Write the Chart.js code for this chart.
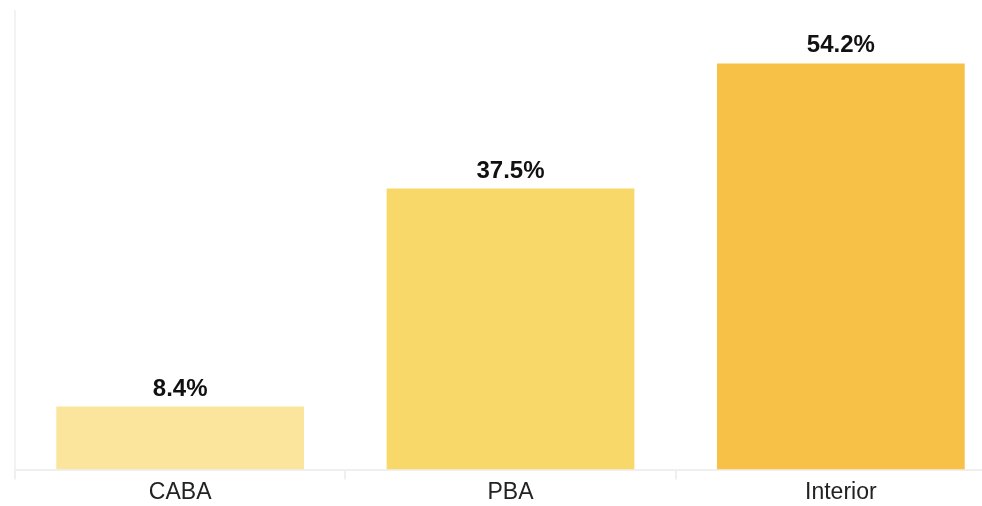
<!DOCTYPE html>
<html><head><meta charset="utf-8">
<script src="https://cdn.jsdelivr.net/npm/chart.js@4"></script>
<style>html,body{margin:0;padding:0;background:#fff;overflow:hidden;}#wrap{width:1006px;height:506px;position:relative;}</style>
</head><body><div id="wrap"><canvas id="c"></canvas></div>
<script>
const categories = ["CABA", "PBA", "Interior"];
const values = [8.4, 37.5, 54.2];
const valueLabels = ["8.4%", "37.5%", "54.2%"];
const barColors = ["#FBE59D", "#F9D86A", "#F7C046"];

const labelPlugin = {
  id: 'valLabels',
  afterDatasetsDraw(chart) {
    const ctx = chart.ctx;
    const meta = chart.getDatasetMeta(0);
    ctx.save();
    ctx.font = "bold 24px 'Liberation Sans', Arial, sans-serif";
    ctx.fillStyle = "#111";
    ctx.textAlign = "center";
    ctx.textBaseline = "alphabetic";
    meta.data.forEach((bar, i) => {
      ctx.fillText(valueLabels[i], bar.x, bar.y - 11);
    });
    ctx.restore();
  }
};

new Chart(document.getElementById('c'), {
  type: 'bar',
  data: { labels: categories, datasets: [{ data: values, backgroundColor: barColors, borderWidth: 0, categoryPercentage: 0.75, barPercentage: 1.0 }] },
  options: {
    responsive: true, maintainAspectRatio: false, animation: false,
    layout: { padding: { top: 11, left: 7, right: 0, bottom: 0 } },
    plugins: { legend: { display: false }, tooltip: { enabled: false } },
    scales: {
      x: {
        offset: true,
        grid: { display: true, drawOnChartArea: false, drawTicks: true, tickLength: 10, color: "#EFEFEF", lineWidth: 2, offset: true },
        border: { display: true, color: "#EFEFEF", width: 2 },
        ticks: { color: "#222", font: { family: "'Liberation Sans', Arial, sans-serif", size: 23, lineHeight: 1.15 }, padding: 0 }
      },
      y: {
        min: 0, max: 61.2,
        grid: { display: false },
        border: { display: true, color: "#F2F2F2", width: 2 },
        ticks: { display: false }
      }
    }
  },
  plugins: [labelPlugin]
});
</script></body></html>
